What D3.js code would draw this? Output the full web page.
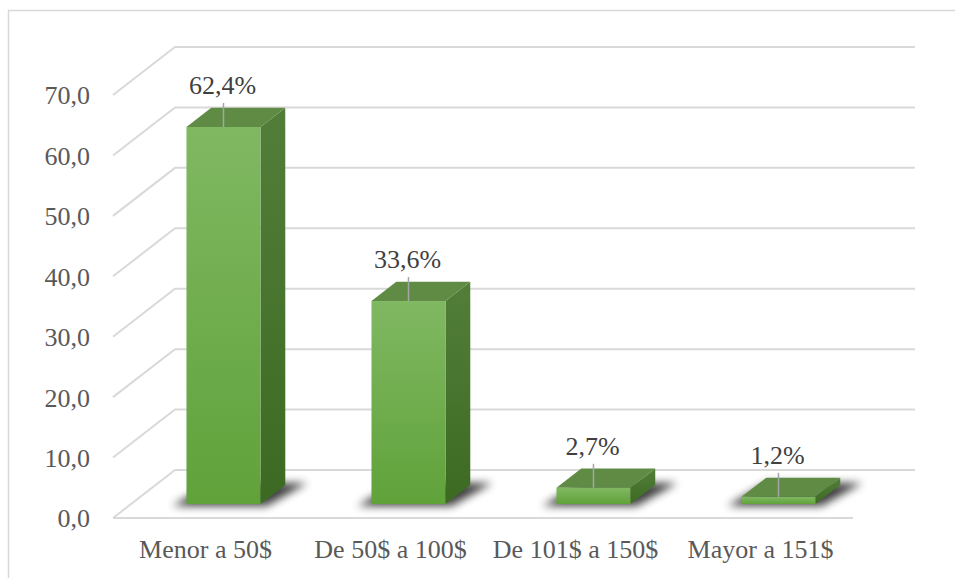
<!DOCTYPE html>
<html>
<head>
<meta charset="utf-8">
<script src="https://cdn.jsdelivr.net/npm/d3@7"></script>
<style>
  html, body { margin: 0; padding: 0; background: #fff; }
  svg { display: block; }
  svg text { font-family: "Liberation Serif", "Times New Roman", Times, "DejaVu Serif", serif; }
</style>
</head>
<body>
<svg id="chart" width="955" height="578"></svg>
<script>
const categories = ["Menor a 50$", "De 50$ a 100$", "De 101$ a 150$", "Mayor a 151$"];
const values = [62.4, 33.6, 2.7, 1.2];
const valueLabels = ["62,4%", "33,6%", "2,7%", "1,2%"];
const tickValues = [0, 10, 20, 30, 40, 50, 60, 70];
const tickLabels = ["0,0", "10,0", "20,0", "30,0", "40,0", "50,0", "60,0", "70,0"];

const svg = d3.select("#chart");
const W = 955, H = 578;

// 3D box geometry
const frontLeft = 113, frontRight = 853;
const depth = { x: 62, y: -48 };
const f1 = 0.29, f2 = 0.69; // bar depth fractions

const y = d3.scaleLinear().domain([0, 70]).range([518, 95]);
const x = d3.scaleBand().domain(categories).range([frontLeft, frontRight])
  .paddingInner(0.6).paddingOuter(0.3);

const textColor = "#595959";
const gridColor = "#d9d9d9";

// defs
const defs = svg.append("defs");
const gFront = defs.append("linearGradient").attr("id", "gFront")
  .attr("x1", 0).attr("y1", 0).attr("x2", 0).attr("y2", 1);
gFront.append("stop").attr("offset", "0%").attr("stop-color", "#80b862");
gFront.append("stop").attr("offset", "100%").attr("stop-color", "#60a23a");
const gSide = defs.append("linearGradient").attr("id", "gSide")
  .attr("x1", 0).attr("y1", 0).attr("x2", 0).attr("y2", 1);
gSide.append("stop").attr("offset", "0%").attr("stop-color", "#527e3a");
gSide.append("stop").attr("offset", "100%").attr("stop-color", "#3d6a22");
const blur = defs.append("filter").attr("id", "shadowBlur")
  .attr("x", "-50%").attr("y", "-50%").attr("width", "200%").attr("height", "200%");
blur.append("feGaussianBlur").attr("stdDeviation", 4);

// chart border
svg.append("path")
  .attr("d", `M8.5,${H} L8.5,10.5 L${W},10.5`)
  .attr("fill", "none").attr("stroke", gridColor).attr("stroke-width", 1.5);

// gridlines: side wall + back wall
const grid = svg.append("g");
tickValues.forEach(t => {
  const yf = y(t);
  const xb = frontLeft + depth.x, yb = yf + depth.y;
  grid.append("path")
    .attr("d", `M${frontLeft},${yf} L${xb},${yb} L${frontRight + depth.x},${yb}`)
    .attr("fill", "none").attr("stroke", gridColor).attr("stroke-width", 2);
});
// floor front edge
grid.append("line")
  .attr("x1", frontLeft).attr("x2", frontRight)
  .attr("y1", y(0)).attr("y2", y(0))
  .attr("stroke", gridColor).attr("stroke-width", 2);

// tick labels
svg.append("g").selectAll("text").data(tickValues).join("text")
  .attr("x", 90).attr("y", d => y(d))
  .attr("dy", "0.36em")
  .attr("text-anchor", "end")
  .attr("font-size", 26)
  .attr("fill", textColor)
  .text((d, i) => tickLabels[i]);

// category labels
svg.append("g").selectAll("text").data(categories).join("text")
  .attr("x", d => x(d) + x.bandwidth() / 2)
  .attr("y", 558)
  .attr("text-anchor", "middle")
  .attr("font-size", 26)
  .attr("fill", textColor)
  .text(d => d);

// bars
const bars = svg.append("g");
categories.forEach((c, i) => {
  const v = values[i];
  const bw = x.bandwidth();
  const x0 = x(c) + f1 * depth.x;
  const yb0 = y(0) + f1 * depth.y;
  const yt0 = y(v) + f1 * depth.y;
  const dx = (f2 - f1) * depth.x, dy = (f2 - f1) * depth.y;
  const x1 = x0 + bw;

  // shadow on floor
  bars.append("path")
    .attr("d", `M${x0 - 14},${yb0 + 2} L${x1 + 6},${yb0 + 2} L${x1 + dx + 22},${yb0 + dy - 2} L${x0 + dx},${yb0 + dy - 2} Z`)
    .attr("fill", "#000").attr("opacity", 0.75)
    .attr("filter", "url(#shadowBlur)");

  // side face
  bars.append("path")
    .attr("d", `M${x1},${yb0} L${x1 + dx},${yb0 + dy} L${x1 + dx},${yt0 + dy} L${x1},${yt0} Z`)
    .attr("fill", "url(#gSide)");
  // top face
  bars.append("path")
    .attr("d", `M${x0},${yt0} L${x0 + dx},${yt0 + dy} L${x1 + dx},${yt0 + dy} L${x1},${yt0} Z`)
    .attr("fill", "#5f8b45");
  // front face
  bars.append("rect")
    .attr("x", x0).attr("y", yt0)
    .attr("width", bw).attr("height", Math.max(yb0 - yt0, 0))
    .attr("fill", "url(#gFront)");

  // leader line + label
  const cx = x0 + bw / 2;
  bars.append("line")
    .attr("x1", cx).attr("x2", cx)
    .attr("y1", yt0).attr("y2", yt0 - 24)
    .attr("stroke", "#a6a6a6").attr("stroke-width", 1.5);
  bars.append("text")
    .attr("x", cx - 1).attr("y", yt0 - 33)
    .attr("text-anchor", "middle")
    .attr("font-size", 26)
    .attr("fill", "#404040")
    .text(valueLabels[i]);
});
</script>
</body>
</html>
